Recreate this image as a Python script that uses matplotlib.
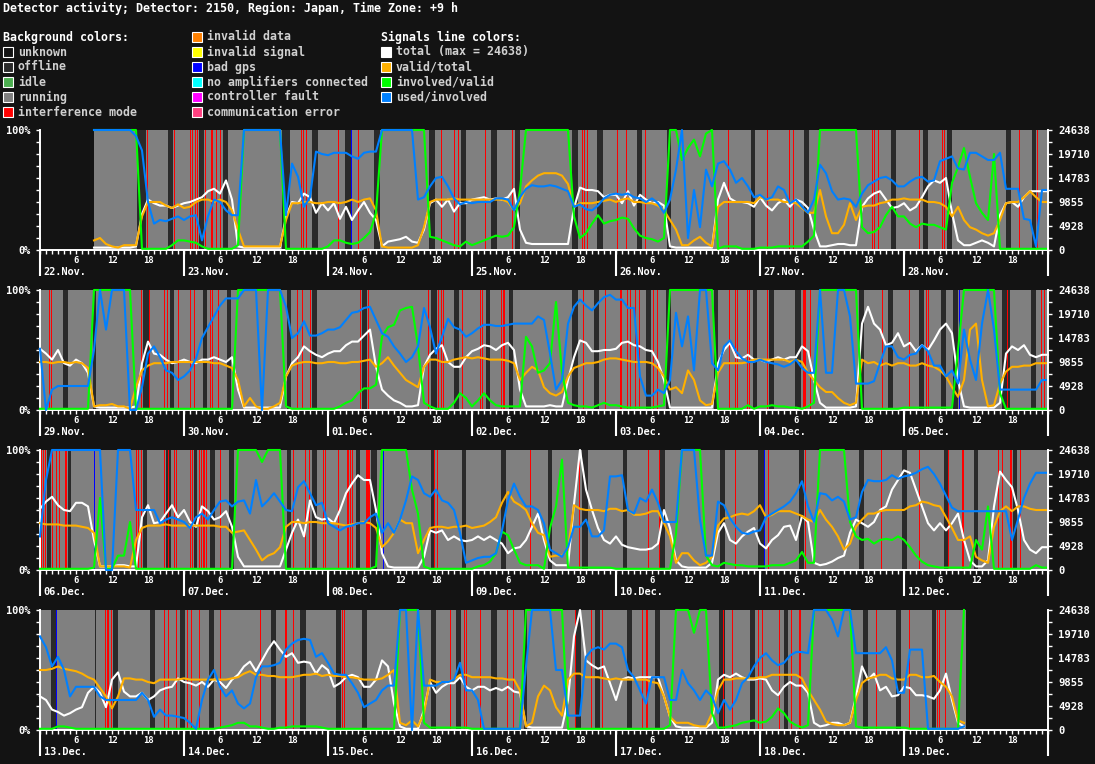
import matplotlib
matplotlib.use("Agg")
import matplotlib.pyplot as plt
from matplotlib.patches import Rectangle
from matplotlib.ticker import MultipleLocator
import numpy as np

W, H = 1095, 764
BG = '#131313'
RUN = '#808080'
OFF = '#2a2a2a'
FS = 8.4

TITLE = 'Detector activity; Detector: 2150, Region: Japan, Time Zone: +9 h'
TOTAL_MAX = 24638

# legend entries
BG_NAMES = ['unknown', 'offline', 'idle', 'running', 'interference mode',
            'invalid data', 'invalid signal', 'bad gps', 'no amplifiers connected',
            'controller fault', 'communication error']
BG_COLORS = [BG, '#2a2a2a', '#4caf50', '#808080', '#ff0000',
             '#ff8000', '#ffff00', '#0000ff', '#00ffff', '#ff00ff', '#ff4080']
LINE_NAMES = ['total (max = %d)' % TOTAL_MAX, 'valid/total', 'involved/valid', 'used/involved']
LINE_COLORS = ['#ffffff', '#ffb000', '#00ff00', '#0080ff']

N = None

# ---------------- panel 1 : 22.Nov - 28.Nov ----------------
DAYS_P1 = ['22.Nov.', '23.Nov.', '24.Nov.', '25.Nov.', '26.Nov.', '27.Nov.', '28.Nov.']
SPAN_P1 = (9, 168)
total_p1 = [
    [N]*9 + [2,2,2,2,2,2,2,3,30,42,39,37,37,35,37],
    [39,40,42,44,49,51,47,58,42,3,2,2,2,2,2,2,2,28,40,39,47,44,31,39],
    [33,39,26,36,25,33,40,31,25,3,7,8,9,11,7,6,17,39,42,36,42,32,39,39],
    [42,43,44,42,43,42,44,51,17,6,5,5,5,5,5,5,5,35,52,50,50,49,44,46],
    [46,39,49,37,46,42,39,40,37,3,2,2,2,2,2,2,2,42,56,43,40,40,39,36],
    [44,37,33,39,42,36,42,40,35,17,3,3,4,5,5,4,4,36,43,47,49,42,35,36],
    [39,33,36,44,53,58,56,60,31,8,4,4,6,8,6,3,29,39,40,36,44,49,49,49],
]
valid_p1 = [
    [N]*9 + [8,10,5,3,2,4,4,4,28,40,40,40,37,35,38],
    [35,36,40,42,42,40,42,40,33,17,3,3,3,3,3,3,3,25,39,39,40,40,39,39],
    [40,40,39,40,42,40,42,43,33,3,2,2,2,2,2,4,19,40,42,42,42,43,42,42],
    [42,42,42,42,42,42,40,33,39,53,58,62,64,64,64,62,55,36,39,39,39,40,41,42],
    [40,42,43,40,40,39,39,37,33,25,17,4,4,8,11,6,3,36,40,40,40,40,40,39],
    [44,42,42,42,40,40,39,35,31,31,50,28,14,14,21,39,25,36,37,37,39,40,42,42],
    [43,42,42,42,40,40,39,36,28,36,25,19,17,14,12,14,25,39,40,40,44,49,44,40],
]
involved_p1 = [
    [N]*9 + [100]*8 + [1,1,1,1,1,4,8],
    [8,7,6,3,1,1,1,1,1,4] + [100]*7 + [1]*7,
    [3,8,8,6,5,6,10,15,31] + [100]*8 + [11,10,8,6,4,3,7],
    [4,6,8,10,12,11,12,19,50] + [100]*8 + [28,10,14,22,29,22,24],
    [25,27,26,18,12,10,9,7,10,100,100,75,85,92,78,97,100,1,3,3,3,1,1,1],
    [2,2,2,3,3,3,3,3,7,12] + [100]*7 + [19,14,15,19,29,36,28],
    [28,22,19,22,21,21,19,17,56,69,85,61,39,31,25,80] + [1]*8,
]
used_p1 = [
    [N]*9 + [100]*7 + [95,83,40,22,25,24,26,28],
    [25,28,29,8,28,42,40,33,29,29] + [100]*7 + [29,72,61,36,44,82,80],
    [79,81,81,81,78,76,81,82,82] + [100]*6 + [42,44,53,60,61,53,43,38,40],
    [39,40,40,40,43,43,42,33,44,51,54,53,53,54,53,51,49,36,38,34,33,37,43,46],
    [47,46,47,44,43,40,43,39,31,42,67,100,10,50,19,67,53,72,74,67,56,60,53,44],
    [46,42,44,53,50,39,42,36,31,42,71,64,49,42,43,42,36,47,54,57,60,61,58,53],
    [53,57,60,61,57,58,74,76,78,68,67,81,81,78,75,75,81,51,51,51,26,25,3,50],
]
OFFLINE_P1 = [(0,16.1,17.6),(0,21.4,22.2),(1,2.5,3.4),(1,6.5,7.4),(1,16.4,17.7),(1,21.4,22.3),
              (2,2.8,3.9),(2,7.7,8.7),(2,16.9,17.8),(2,22.1,23.0),(3,3.2,4.1),(3,7.1,8.0),
              (3,16.7,17.6),(3,20.9,21.8),(4,3.5,4.4),(4,8.5,9.1),(4,22.5,23.2),(5,7.4,8.1),
              (5,21.8,22.7),(6,3.2,4.0),(6,7.1,8.0),(6,17.0,17.9),(6,21.3,22.0)]
INTERF_P1 = [(0,17.8),(0,22.4),(1,1.0),(1,1.3),(1,1.9),(1,2.2),(1,3.5),(1,4.5),(1,4.7),(1,5.4),
             (1,6.0),(1,19.5),(1,19.9),(1,20.4),(2,1.6),(2,5.0),(2,18.8),(2,21.0),(2,21.6),
             (3,2.1),(3,6.6),(3,18.3),(3,18.7),(3,19.2),(4,0.1),(4,1.7),(4,4.8),(4,18.6),
             (5,1.1),(5,4.9),(5,5.5),(5,18.6),(5,19.0),(5,19.6),(6,2.5),(6,6.4),(6,6.7),
             (6,19.2),(6,22.2)]
GPS_P1 = [(2,3.9)]

# ---------------- panel 2 : 29.Nov - 05.Dec ----------------
DAYS_P2 = ['29.Nov.', '30.Nov.', '01.Dec.', '02.Dec.', '03.Dec.', '04.Dec.', '05.Dec.']
SPAN_P2 = (0, 168)
total_p2 = [
    [51,47,42,50,39,37,42,39,31,3,2,2,2,2,2,2,3,39,57,47,46,42,39,40],
    [42,40,39,42,42,44,42,40,44,17,2,2,2,2,2,2,2,28,39,44,53,49,46,44],
    [47,49,49,54,57,57,62,67,36,17,12,8,6,3,3,4,36,46,51,54,40,36,36,44],
    [49,51,54,53,50,54,56,50,17,3,3,3,3,4,3,3,25,44,58,56,49,49,50,50],
    [51,56,57,54,53,50,49,40,25,2,2,2,2,2,2,2,2,39,50,56,44,43,46,42],
    [42,40,42,44,42,44,44,53,49,25,6,2,2,2,2,2,3,72,86,72,67,54,56,64],
    [53,56,49,54,50,58,67,72,64,25,3,2,2,2,2,2,6,47,53,50,54,46,44,46],
]
valid_p2 = [
    [40,40,39,40,40,39,40,39,35,3,4,4,5,3,3,1,19,33,37,39,39,39,40,40],
    [40,40,40,40,40,39,39,37,35,25,3,10,3,1,1,3,6,28,37,39,40,40,39,39],
    [40,40,39,39,40,40,41,42,36,39,44,37,31,25,22,19,36,42,42,40,40,42,43,44],
    [43,44,43,42,42,42,41,39,25,31,36,33,19,14,12,15,28,35,37,39,39,40,42,43],
    [43,42,41,40,40,40,39,35,28,17,19,14,33,25,8,4,5,31,39,39,39,39,40,42],
    [42,42,42,42,42,40,42,40,31,25,19,15,15,10,6,4,6,42,39,40,37,39,37,39],
    [39,37,37,39,37,36,33,28,19,11,25,67,72,25,3,4,22,32,36,36,37,37,39,39],
]
involved_p2 = [
    [1]*9 + [100]*7 + [1]*8,
    [1]*9 + [100]*8 + [3,1,1,1,1,1,1],
    [1,1,3,6,8,14,18,18,21,61,69,71,83,85,86,53,6,3,1,1,1,6,14,10],
    [3,8,14,8,4,3,3,3,3,61,53,31,33,39,90,31,6,4,3,3,2,4,6,4],
    [4,3,2,2,2,2,2,3,4] + [100]*8 + [1,1,1,1,1,4,1],
    [3,3,4,3,3,2,2,1,3,6] + [100]*7 + [1]*7,
    [2]*9 + [50] + [100]*6 + [14] + [1]*7,
]
used_p2 = [
    [51,0,17,20,20,20,20,20,20,50,100,67,100,100,100,0,0,19,47,53,44,33,31,25],
    [28,33,43,60,69,78,87,93,93,93,100,100,100,0,100,100,100,86,60,64,74,62,62,64],
    [67,67,69,75,81,82,85,86,75,64,61,53,47,40,44,53,85,69,47,61,76,69,67,61],
    [64,68,71,71,70,70,71,72,72,72,72,78,75,47,17,25,72,86,92,87,83,89,94,96],
    [92,92,85,85,28,12,12,17,14,25,81,53,78,33,100,100,39,33,53,58,49,43,40,40],
    [42,40,39,38,36,38,42,35,31,31,100,31,31,100,100,78,22,22,22,24,39,53,53,44],
    [42,46,47,54,49,37,37,28,33,22,67,42,25,72,100,67,17,17,17,17,17,17,17,25],
]
OFFLINE_P2 = [(0,3.9,4.7),(0,8.8,9.4),(0,17.1,18.1),(0,21.6,22.3),(1,3.1,3.8),(1,7.2,7.9),
              (1,17.1,17.9),(1,21.3,22.1),(2,5.7,6.5),(2,17.2,18.1),(2,21.0,21.9),(3,2.3,3.0),
              (3,6.1,6.8),(3,16.7,17.6),(3,20.3,21.2),(4,5.0,5.8),(4,8.3,9.1),(4,16.3,17.0),
              (4,22.8,23.5),(5,1.5,2.4),(5,5.9,6.8),(5,16.5,17.4),(5,21.3,22.1),(6,2.5,3.4),
              (6,6.1,7.0),(6,8.1,9.0),(6,16.4,17.6),(6,21.1,22.0)]
INTERF_P2 = [(0,1.5),(0,1.9),(0,16.9),(0,18.1),(0,20.7),(0,21.2),(0,23.0),(1,1.0),(1,1.6),
             (1,4.3),(1,4.7),(1,5.7),(1,18.8),(1,19.7),(1,21.0),(2,5.3),(2,6.6),(2,16.6),
             (2,18.3),(2,18.9),(2,19.2),(2,22.3),(3,1.4),(3,1.6),(3,4.8),(3,5.1),(3,5.4),
             (3,18.5),(3,22.2),(4,0.6),(4,0.9),(4,1.9),(4,2.4),(4,3.1),(4,3.8),(4,6.2),(4,6.9),
             (4,18.9),(4,19.9),(4,20.2),(4,21.9),(4,22.2),(5,1.2),(5,7.1),(5,7.3),(5,7.5),
             (5,8.4),(5,20.3),(6,0.8),(6,3.7),(6,4.0),(6,17.2),(6,22.8),(6,23.3)]
GPS_P2 = [(6,9.2)]

# ---------------- panel 3 : 06.Dec - 12.Dec ----------------
DAYS_P3 = ['06.Dec.', '07.Dec.', '08.Dec.', '09.Dec.', '10.Dec.', '11.Dec.', '12.Dec.']
SPAN_P3 = (0, 168)
total_p3 = [
    [51,57,61,54,50,49,56,56,53,25,3,3,3,4,4,3,3,44,54,39,40,47,54,44],
    [50,40,36,53,49,42,44,49,36,11,3,3,3,3,3,3,3,17,31,42,28,58,44,42],
    [43,39,50,64,72,79,75,75,50,14,3,2,2,2,2,2,11,33,31,33,25,28,25,24],
    [25,28,25,28,25,22,14,18,19,25,36,47,25,8,4,4,4,55,100,67,50,35,25,22],
    [28,21,19,18,17,17,18,22,50,35,8,3,2,2,2,2,6,31,39,25,22,28,32,35],
    [22,18,25,29,36,37,25,45,40,6,4,5,7,10,12,31,42,39,36,40,50,53,67,75],
    [83,81,67,53,39,33,39,33,39,47,25,8,3,3,8,53,82,75,69,50,25,17,14,19],
]
valid_p3 = [
    [39,38,38,38,37,37,37,36,35,31,3,3,3,3,3,2,25,35,37,37,37,38,37,37],
    [37,37,37,37,37,37,36,36,31,32,33,25,17,8,12,14,19,36,40,40,39,40,40,39],
    [39,39,38,37,38,39,40,39,35,19,24,31,42,39,39,14,25,35,36,36,35,36,36,37],
    [35,36,37,40,44,56,65,57,54,50,39,31,29,11,12,12,17,54,51,50,50,50,49,51],
    [51,49,50,46,46,47,49,49,39,28,6,14,14,8,4,6,11,37,43,44,46,47,46,49],
    [54,44,46,49,49,49,47,45,42,40,50,42,36,28,17,22,36,42,47,47,49,50,50,50],
    [50,53,54,57,56,54,53,44,35,25,25,28,11,8,6,36,49,53,49,53,53,51,50,50],
]
involved_p3 = [
    [1]*9 + [2,60,1,1,12,12,40] + [1]*8,
    [1]*9 + [100,100,100,100,90,100,100,100] + [1]*7,
    [1]*8 + [3] + [100]*5 + [67,47,3] + [1]*7,
    [1,3,4,7,14,32,29,17,6,4,4,4,1,35,53,92,2,2,2,2,2,2,2,2],
    [1]*10 + [30,100,100,100,100,12,4,3,6,5,4,4,3,3],
    [3,3,4,4,4,6,8,15,6,6] + [100]*5 + [40,28,25,26,22,25,26,25,28],
    [25,19,12,7,4,3,2,2,2,2,2,2,25,17,53,1,1,1,1,1,1,1,4,2],
]
used_p3 = [
    [28,75,100,100,100,100,100,100,100,100,100,0,0,100,100,100,50,50,50,50,39,42,44,42],
    [40,35,44,47,42,50,57,58,53,57,58,47,75,53,58,64,57,50,49,69,74,64,54,56],
    [39,36,33,36,37,39,39,44,47,31,39,31,42,58,78,75,64,61,67,58,56,50,31,6],
    [8,10,11,11,14,33,58,72,61,53,53,50,39,17,14,11,19,36,36,42,28,28,33,78],
    [78,79,50,47,60,57,67,56,40,40,40,100,100,100,42,12,12,57,54,43,36,31,30,32],
    [33,44,47,50,53,57,64,74,53,40,64,63,58,61,57,42,44,65,75,74,74,75,79,76],
    [78,79,81,84,86,80,72,62,52,49,49,49,49,49,49,49,49,49,25,42,60,72,81,81],
]
OFFLINE_P3 = [(0,1.2,1.9),(0,4.7,5.2),(0,17.1,17.8),(0,21.0,21.9),(1,1.6,2.2),(1,4.3,5.1),
              (1,7.5,8.4),(1,17.1,17.8),(1,21.3,22.2),(2,4.6,5.4),(2,7.2,8.1),(2,17.2,17.9),
              (2,22.3,23.0),(3,4.9,5.7),(3,12.6,13.4),(3,18.4,19.3),(4,1.1,1.9),(4,7.3,8.1),
              (4,17.3,18.1),(4,23.7,24.6),(5,6.5,7.4),(5,16.5,17.4),(5,23.6,24.5),(6,6.7,7.4),
              (6,11.6,12.4),(6,18.1,18.8)]
INTERF_P3 = [(0,0.2),(0,0.5),(0,0.8),(0,2.0),(0,2.6),(0,3.2),(0,4.1),(0,4.4),(0,16.0),(0,16.4),
             (0,16.8),(0,20.7),(0,21.3),(0,22.3),(0,22.6),(1,1.0),(1,1.3),(1,2.5),(1,2.8),
             (1,3.1),(1,3.4),(1,3.7),(1,6.0),(1,18.2),(1,20.1),(1,20.9),(1,23.2),(1,23.5),
             (2,1.6),(2,3.1),(2,3.4),(2,3.7),(2,4.0),(2,6.3),(2,6.5),(2,6.7),(2,6.9),(2,17.6),
             (2,18.2),(3,9.6),(3,17.9),(4,5.3),(4,7.1),(4,19.9),(5,1.4),(5,7.5),(5,20.2),
             (6,2.5),(6,7.4),(6,9.6),(6,9.8),(6,15.7),(6,16.4),(6,17.7),(6,17.9),(6,19.4)]
GPS_P3 = [(0,9.0),(2,9.2),(5,0.7)]

# ---------------- panel 4 : 13.Dec - 19.Dec ----------------
DAYS_P4 = ['13.Dec.', '14.Dec.', '15.Dec.', '16.Dec.', '17.Dec.', '18.Dec.', '19.Dec.']
SPAN_P4 = (0, 154.4)
total_p4 = [
    [28,25,17,15,12,14,17,19,31,36,31,19,42,48,32,28,28,31,25,28,33,35,36,43],
    [40,39,37,40,36,42,40,35,42,46,53,57,49,58,67,74,67,61,64,56,57,56,47,54],
    [50,36,39,44,46,44,36,36,42,58,53,22,3,1,1,1,17,40,31,36,39,39,44,36],
    [33,36,36,33,35,33,36,32,31,3,2,2,2,2,2,2,25,78,100,58,54,51,53,39],
    [25,42,44,43,44,44,44,44,28,11,3,2,2,2,2,2,6,42,46,44,47,44,42,42],
    [43,42,33,29,36,40,37,37,31,6,3,4,6,6,4,6,28,53,42,47,33,36,28,29],
    [36,35,29,29,28,26,33,47,25,6,3] + [N]*13,
]
valid_p4 = [
    [50,50,51,53,51,50,49,47,44,42,35,28,18,28,43,43,42,42,40,39,42,42,42,42],
    [43,42,42,42,42,42,42,42,43,44,47,49,46,46,45,45,44,44,44,45,46,46,47,45],
    [46,45,45,44,44,43,42,42,42,43,46,50,6,4,8,3,14,42,40,40,40,42,46,46],
    [44,44,44,44,43,43,42,42,33,3,6,28,37,33,19,12,42,47,47,44,44,44,43,42],
    [43,42,42,42,42,42,40,39,28,11,6,6,6,4,3,3,14,33,42,42,43,43,43,43],
    [44,44,46,46,46,46,46,43,33,25,17,7,5,4,4,6,25,39,43,44,46,46,43,42],
    [42,46,46,44,44,45,40,36,28,8,6] + [N]*13,
]
involved_p4 = [
    [1,1,1,3,3,2] + [1]*18,
    [1,1,1,1,1,1,2,3,4,6,6,3,3,2,1,1,2,2,3,3,3,3,3,2],
    [1]*12 + [100]*4 + [6] + [2]*7,
    [1]*9 + [100]*7 + [1]*8,
    [1]*9 + [4,100,100,100,81,100,100,14,2,2,3,4,6,7,8],
    [6,7,11,18,14,7,4,2,4] + [100]*7 + [3] + [2]*7,
    [2,1,1,1,1,1,1,1,1,1,100] + [N]*13,
]
used_p4 = [
    [78,69,53,61,50,28,36,36,36,36,28,25,25,25,25,25,25,31,25,11,17,12,12,11],
    [10,6,1,25,42,50,36,28,33,22,18,22,44,53,53,54,56,67,72,75,76,75,61,64],
    [56,47,46,46,39,31,19,22,25,33,37,37,100,100,0,100,37,37,37,40,40,42,56,33],
    [33,25,1,1,1,1,1,1,1,53,100,100,100,100,50,50,12,12,12,61,67,69,67,72],
    [72,69,50,44,33,22,44,44,44,25,25,50,39,33,25,33,28,14,25,17,25,39,44,53],
    [60,64,58,54,56,62,65,65,64,100,100,100,92,78,100,100,64,64,64,64,64,69,58,31],
    [31,67,67,67,1,1,1,1,1,1,3] + [N]*13,
]
OFFLINE_P4 = [(0,1.9,2.6),(0,9.1,9.3),(0,12.2,13.0),(0,18.4,19.2),(0,23.4,24.2),(1,4.1,5.0),
              (1,14.5,15.4),(1,19.4,20.3),(2,1.3,2.2),(2,5.7,6.5),(2,17.2,18.0),(2,21.4,22.2),
              (3,3.2,4.1),(3,8.6,9.2),(3,17.3,18.1),(3,20.5,21.3),(4,1.8,2.6),(4,6.5,7.3),
              (4,17.2,18.1),(4,22.4,23.2),(5,4.0,4.7),(5,17.1,18.0),(5,22.7,23.5),(6,4.6,5.4)]
INTERF_P4 = [(0,10.8),(0,11.1),(0,11.4),(0,11.8),(0,20.7),(0,21.3),(0,22.7),(1,0.5),(1,1.2),
             (1,2.5),(1,6.0),(1,12.6),(1,16.8),(1,17.0),(1,18.2),(2,2.4),(2,2.7),(2,20.3),
             (2,22.7),(2,23.0),(3,1.3),(3,5.8),(3,6.8),(3,17.1),(3,19.9),(3,21.6),(4,4.4),
             (4,5.0),(4,5.1),(4,17.9),(4,19.4),(4,23.6),(5,0.3),(5,3.1),(5,5.1),(5,6.5),
             (5,6.7),(5,19.3),(6,0.9),(6,5.5),(6,5.8),(6,6.8)]
GPS_P4 = [(0,2.7)]

panels = [
    (DAYS_P1, SPAN_P1, [total_p1, valid_p1, involved_p1, used_p1], OFFLINE_P1, INTERF_P1, GPS_P1),
    (DAYS_P2, SPAN_P2, [total_p2, valid_p2, involved_p2, used_p2], OFFLINE_P2, INTERF_P2, GPS_P2),
    (DAYS_P3, SPAN_P3, [total_p3, valid_p3, involved_p3, used_p3], OFFLINE_P3, INTERF_P3, GPS_P3),
    (DAYS_P4, SPAN_P4, [total_p4, valid_p4, involved_p4, used_p4], OFFLINE_P4, INTERF_P4, GPS_P4),
]

plt.rcParams['font.family'] = ['DejaVu Sans Mono', 'DejaVu Sans']
plt.rcParams['font.weight'] = 'bold'


def fx(px):
    return px / W


def fy(py):
    return 1 - py / H


fig = plt.figure(figsize=(W / 100, H / 100), dpi=100, facecolor=BG)

# title and legend
fig.text(fx(3), fy(8), TITLE, color='white', fontsize=FS, va='center', ha='left')


def legend_item(x, y, color, label):
    fig.add_artist(Rectangle((fx(x), fy(y + 5)), 10 / W, 10 / H, transform=fig.transFigure,
                             facecolor=color, edgecolor='white', lw=0.8))
    fig.text(fx(x + 15), fy(y), label, color='#d0d0d0', fontsize=FS, va='center', ha='left')


ROW0 = 37
fig.text(fx(3), fy(ROW0), 'Background colors:', color='white', fontsize=FS, va='center')
for k in range(5):
    legend_item(3, ROW0 + 15 * (k + 1), BG_COLORS[k], BG_NAMES[k])
for k in range(5, 11):
    legend_item(192, ROW0 + 15 * (k - 5), BG_COLORS[k], BG_NAMES[k])
fig.text(fx(381), fy(ROW0), 'Signals line colors:', color='white', fontsize=FS, va='center')
for k in range(4):
    legend_item(381, ROW0 + 15 * (k + 1), LINE_COLORS[k], LINE_NAMES[k])

right_labels = [str(int(round(TOTAL_MAX * k / 5))) for k in range(6)]

for i, (days, span, series, offline, interf, gps) in enumerate(panels):
    top = 130 + 160 * i
    ax = fig.add_axes([fx(40), fy(top + 120), 1008 / W, 120 / H])
    ax.set_facecolor(BG)
    ax.set_xlim(0, 168)
    ax.set_ylim(0, 100)

    # background states
    ax.axvspan(span[0], span[1], color=RUN, lw=0)
    for d, a, b in offline:
        ax.axvspan(24 * d + a, 24 * d + b, color=OFF, lw=0)
    for d, h in interf:
        ax.axvline(24 * d + h, color='#ff0000', lw=0.7, antialiased=False)
    for d, h in gps:
        ax.axvline(24 * d + h, color='#0000ff', lw=0.7, antialiased=False)

    # signal lines
    x = np.arange(169)
    for vals, col in zip(series, LINE_COLORS):
        y = np.array(sum(vals, []), dtype=float)
        y = np.append(y, y[-1])
        ax.plot(x, y, color=col, lw=1.5, clip_on=False, zorder=3)

    for s in ['top', 'right']:
        ax.spines[s].set_visible(False)
    for s in ['left', 'bottom']:
        ax.spines[s].set_color('white')
        ax.spines[s].set_linewidth(1.4)

    ax.set_yticks([0, 100])
    ax.set_yticklabels(['0%', '100%'])
    ax.yaxis.set_minor_locator(MultipleLocator(10))
    ax.tick_params(axis='y', which='both', direction='out', length=3, width=1,
                   color='white', labelcolor='white', labelsize=7.4, pad=4)

    hours = [24 * d + h for d in range(7) for h in (6, 12, 18)]
    ax.set_xticks(hours)
    ax.set_xticklabels([str(h % 24) for h in hours])
    ax.xaxis.set_minor_locator(MultipleLocator(1))
    ax.tick_params(axis='x', which='both', direction='out', length=3, width=1,
                   color='white', labelcolor='white', labelsize=6.4, pad=1.5)

    # day boundaries and labels
    tr = ax.get_xaxis_transform()
    ax.vlines(range(0, 169, 24), -0.215, 0, transform=tr, colors='white', lw=1.5, clip_on=False)
    for d, lab in enumerate(days):
        ax.text(24 * d + 0.6, -0.18, lab, transform=tr, color='white', fontsize=7.4,
                va='center', ha='left')

    # right axis with total counts
    ax2 = ax.twinx()
    ax2.set_ylim(0, 100)
    for s in ['top', 'left', 'bottom']:
        ax2.spines[s].set_visible(False)
    ax2.spines['right'].set_color('white')
    ax2.spines['right'].set_linewidth(1.4)
    ax2.set_yticks([0, 20, 40, 60, 80, 100])
    ax2.set_yticklabels(right_labels)
    ax2.yaxis.set_minor_locator(MultipleLocator(10))
    ax2.tick_params(axis='y', which='both', direction='out', length=3, width=1,
                    color='white', labelcolor='white', labelsize=7.6, pad=4.5)

fig.savefig('out.png', dpi=100, facecolor=BG)
